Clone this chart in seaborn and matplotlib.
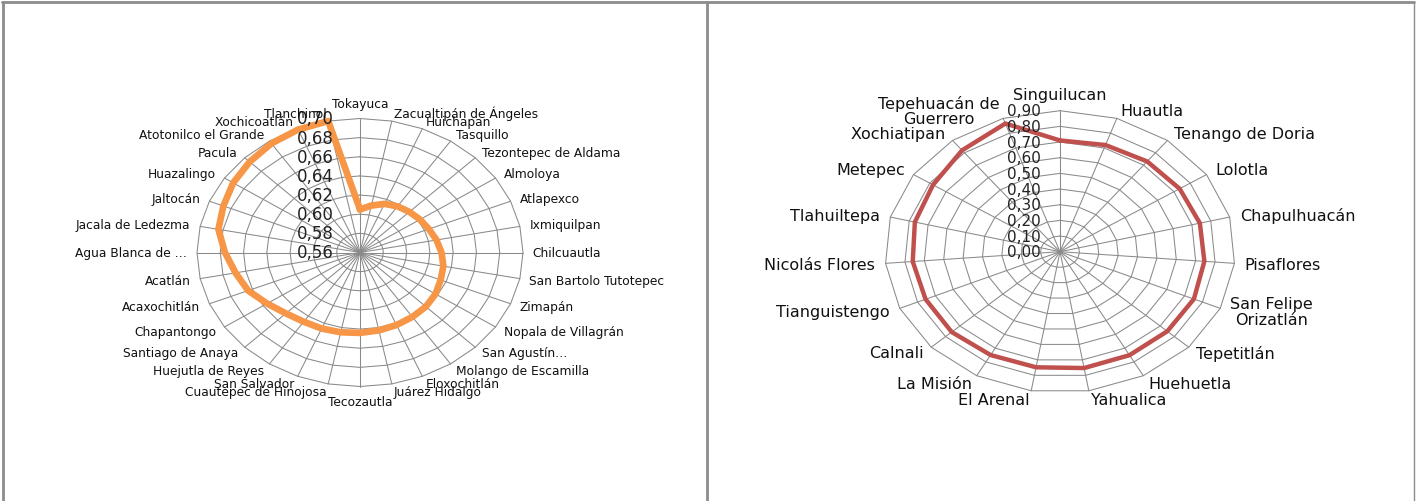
import numpy as np
import pandas as pd
import matplotlib.pyplot as plt
import seaborn as sns
from matplotlib.lines import Line2D

# left radar: municipalities, clockwise from the top
left_cats = ['Tokayuca', 'Zacualtipán de Ángeles', 'Huichapan', 'Tasquillo',
             'Tezontepec de Aldama', 'Almoloya', 'Atlapexco', 'Ixmiquilpan',
             'Chilcuautla', 'San Bartolo Tutotepec', 'Zimapán', 'Nopala de Villagrán',
             'San Agustín…', 'Molango de Escamilla', 'Eloxochitlán', 'Juárez Hidalgo',
             'Tecozautla', 'Cuautepec de Hinojosa', 'San Salvador', 'Huejutla de Reyes',
             'Santiago de Anaya', 'Chapantongo', 'Acaxochitlán', 'Acatlán',
             'Agua Blanca de …', 'Jacala de Ledezma', 'Jaltocán', 'Huazalingo',
             'Pacula', 'Atotonilco el Grande', 'Xochicoatlán', 'Tlanchinol']
left_vals = [0.605, 0.610, 0.615, 0.618, 0.620, 0.622, 0.624, 0.627,
             0.630, 0.633, 0.635, 0.638, 0.640, 0.641, 0.642, 0.643,
             0.644, 0.645, 0.646, 0.647, 0.650, 0.656, 0.664, 0.669,
             0.676, 0.684, 0.687, 0.691, 0.694, 0.697, 0.699, 0.700]
left_ticks = [0.56, 0.58, 0.60, 0.62, 0.64, 0.66, 0.68, 0.70]

# right radar
right_cats = ['Singuilucan', 'Huautla', 'Tenango de Doria', 'Lolotla', 'Chapulhuacán',
              'Pisaflores', 'San Felipe\nOrizatlán', 'Tepetitlán', 'Huehuetla', 'Yahualica',
              'El Arenal', 'La Misión', 'Calnali', 'Tianguistengo', 'Nicolás Flores',
              'Tlahuiltepa', 'Metepec', 'Xochiatipan', 'Tepehuacán de\nGuerrero']
right_vals = [0.71, 0.72, 0.73, 0.735, 0.742, 0.745, 0.752, 0.750, 0.751, 0.753,
              0.748, 0.750, 0.757, 0.755, 0.760, 0.770, 0.780, 0.820, 0.865]
right_ticks = [0.0, 0.1, 0.2, 0.3, 0.4, 0.5, 0.6, 0.7, 0.8, 0.9]

sns.set_style("white")
plt.rcParams['font.family'] = ['DejaVu Sans']

W, H = 1416, 502
fig = plt.figure(figsize=(W / 100, H / 100), dpi=100)


def make_axes(x0, x1, cx, cy, rx, ry):
    # one data unit = rx px across and ry px down, like the stretched original
    ax = fig.add_axes([x0 / W, 0, (x1 - x0) / W, 1])
    ax.set_xlim((x0 - cx) / rx, (x1 - cx) / rx)
    ax.set_ylim(-(H - cy) / ry, cy / ry)
    ax.axis('off')
    return ax


def radar(ax, cats, vals, ticks, color, lw, cat_size, tick_size, tick_x):
    n = len(cats)
    ang = np.arange(n) * 2 * np.pi / n
    s, c = np.sin(ang), np.cos(ang)
    lo, hi = ticks[0], ticks[-1]
    grid = dict(color='#8a8a8a', lw=0.75, zorder=1)

    # polygon rings and spokes
    for t in ticks[1:]:
        r = (t - lo) / (hi - lo)
        ax.plot(np.append(s, s[0]) * r, np.append(c, c[0]) * r, **grid)
    for i in range(n):
        ax.plot([0, s[i]], [0, c[i]], **grid)

    # data line, closed back to the first category
    r = (np.array(vals) - lo) / (hi - lo)
    df = pd.DataFrame({'x': np.append(s * r, s[0] * r[0]),
                       'y': np.append(c * r, c[0] * r[0])})
    sns.lineplot(data=df, x='x', y='y', sort=False, estimator=None, color=color,
                 lw=lw, ax=ax, solid_joinstyle='round', solid_capstyle='round', zorder=3)

    # value labels on the vertical axis
    for t in ticks:
        r = (t - lo) / (hi - lo)
        ax.text(tick_x, r, f"{t:.2f}".replace('.', ','), ha='right', va='center',
                fontsize=tick_size, color='#222222', zorder=5)

    # category labels
    for i, name in enumerate(cats):
        x, y = 1.06 * s[i], 1.06 * c[i]
        if abs(s[i]) < 0.01:
            ha, va = 'center', ('bottom' if c[i] > 0 else 'top')
        else:
            ha, va = ('left' if s[i] > 0 else 'right'), 'center'
        ax.text(x, y, name, ha=ha, va=va, fontsize=cat_size, color='#111111',
                multialignment='center', linespacing=1.05, zorder=5)


ax1 = make_axes(0, 707, 360, 253.5, 163, 134)
radar(ax1, left_cats, left_vals, left_ticks, '#F79646', 4.8, 8.8, 12, -0.16)

ax2 = make_axes(707, 1416, 1060, 252.7, 175, 141)
radar(ax2, right_cats, right_vals, right_ticks, '#C0504D', 3.2, 11.5, 11, -0.11)

# chart area borders
bc = '#8c8c8c'
fig.add_artist(Line2D([2 / W, 1414 / W], [1 - 3 / H, 1 - 3 / H], color=bc, lw=2))
for xp, w in [(2.5, 2), (707, 2), (1414, 1)]:
    fig.add_artist(Line2D([xp / W, xp / W], [0, 1 - 3 / H], color=bc, lw=w))

plt.savefig('out.png', dpi=100)
